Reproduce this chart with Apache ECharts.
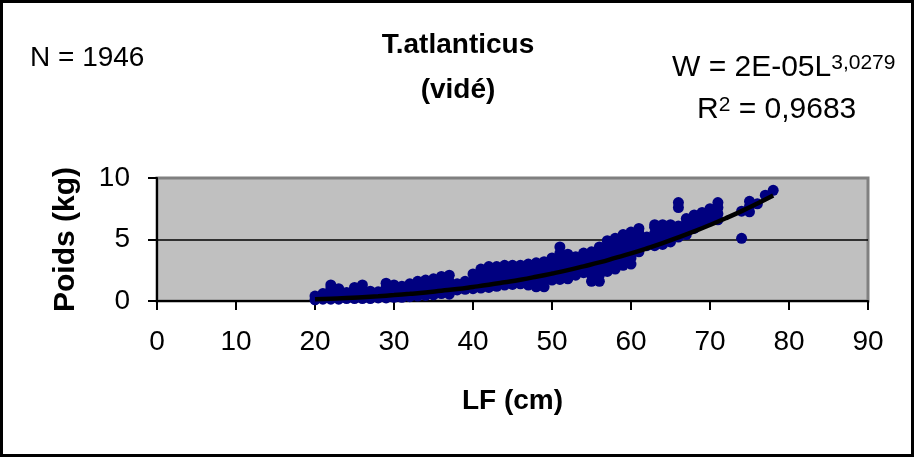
<!DOCTYPE html>
<html><head><meta charset="utf-8">
<script src="https://cdn.jsdelivr.net/npm/echarts@6/dist/echarts.min.js"></script>
<style>html,body{margin:0;padding:0;background:#fff}#c{width:916px;height:459px}</style>
</head><body><div id="c"></div>
<script>
const lengthsCm = [20,21,22,23,24,25,26,27,28,29,30,31,32,33,34,35,36,37,38,39,40,41,42,43,44,45,46,47,48,49,50,51,52,53,54,55,56,57,58,59,60,61,62,63,64,65,66,67,68,69,70,71,74,75,76,77,78];
const weightsByLength = [
  [0.1,0.4],[0.15,0.6],[0.15,0.6,1.0,1.3],[0.15,0.55,1.0],[0.2,0.7],
  [0.2,0.65,1.1],[0.2,0.7,1.3],[0.2,0.8],[0.25,0.75],[0.25,0.7,1.1,1.45],
  [0.3,0.8,1.3],[0.3,0.75,1.2],[0.35,0.85,1.4],[0.4,0.9,1.35,1.6],[0.45,0.95,1.4,1.7],
  [0.5,1.0,1.45,1.8],[0.6,1.1,1.6,2.0],[0.55,1.1,1.6,2.1],[0.9,1.4],[0.95,1.6],
  [1.0,1.6,2.2],[1.05,1.6,2.1,2.6],[1.1,1.65,2.2,2.8],[1.2,1.7,2.3,2.8],[1.3,1.85,2.4,2.9],
  [1.35,1.9,2.4,2.9],[1.4,2.0,2.5,2.9],[1.3,1.9,2.5,3.0],[1.15,1.7,2.2,2.7,3.1],[1.15,1.7,2.3,2.8,3.2],
  [1.7,2.2,2.7,3.1,3.5],[1.75,2.3,2.85,3.4,3.9,4.4],[1.8,2.35,2.9,3.4,3.8],[2.1,2.6,3.1,3.6],[2.3,2.8,3.3,3.9],
  [1.6,2.1,2.6,3.1,3.6,4.0],[1.6,2.1,2.6,3.1,3.6,4.0,4.4],[2.4,2.9,3.4,3.9,4.4,4.9],[2.6,3.1,3.6,4.1,4.6,5.1],[2.9,3.4,3.9,4.4,4.9,5.4],
  [3.0,3.5,4.0,4.5,5.0,5.6],[4.0,4.5,5.0,5.5,5.9],[4.5,5.0,5.2],[4.5,5.0,5.5,6.0,6.2],[4.6,5.1,5.6,6.2],
  [4.8,5.3,5.8,6.2],[5.2,5.7,6.1,7.6,8.0],[5.4,5.9,6.3,6.7],[5.9,6.4,7.0],[6.3,6.8,7.2],
  [6.6,7.0,7.5],[6.6,7.1,7.6,8.0],[5.1,7.3],[7.25,7.7,8.1],[7.9],[8.6],[9.0]
];
// Power trend line
const trendLengthCm = [20,22,24,26,28,30,32,34,36,38,40,42,44,46,48,50,52,54,56,58,60,62,64,66,68,70,72,74,76,78];
const trendWeightKg = [0.14,0.19,0.24,0.31,0.39,0.48,0.58,0.69,0.83,0.97,1.14,1.32,1.52,1.73,1.97,2.23,2.51,2.82,3.14,3.50,3.87,4.28,4.71,5.17,5.66,6.18,6.73,7.31,7.93,8.58];
const xTicks = [0,10,20,30,40,50,60,70,80,90];
const yTicks = [0,5,10];

const scatterData = [];
lengthsCm.forEach((L, i) => weightsByLength[i].forEach(w => scatterData.push([L, w])));
const trendData = trendLengthCm.map((L, i) => [L, trendWeightKg[i]]);

const FONT = '"Liberation Sans", Arial, sans-serif';
const chart = echarts.init(document.getElementById('c'), null, {renderer: 'canvas'});
chart.setOption({
  animation: false,
  backgroundColor: '#ffffff',
  textStyle: {fontFamily: FONT, color: '#000'},
  grid: {left: 157, right: 48, top: 178, bottom: 158, show: true,
         backgroundColor: '#C0C0C0', borderColor: '#808080', borderWidth: 3},
  xAxis: {
    type: 'value', min: xTicks[0], max: xTicks[xTicks.length - 1], interval: 10,
    axisLine: {show: true, lineStyle: {color: '#000', width: 2}},
    axisTick: {show: true, length: 9, lineStyle: {color: '#000', width: 2}},
    axisLabel: {fontSize: 28, color: '#000', margin: 27, fontFamily: FONT},
    splitLine: {show: false},
    name: 'LF (cm)', nameLocation: 'middle', nameGap: 86,
    nameTextStyle: {fontSize: 28, fontWeight: 'bold', color: '#000', fontFamily: FONT}
  },
  yAxis: {
    type: 'value', min: yTicks[0], max: yTicks[yTicks.length - 1], interval: 5,
    axisLine: {show: true, lineStyle: {color: '#000', width: 2}},
    axisTick: {show: true, length: 9, lineStyle: {color: '#000', width: 2}},
    axisLabel: {fontSize: 28, color: '#000', margin: 27, fontFamily: FONT},
    splitLine: {show: true, showMinLine: false, showMaxLine: false, lineStyle: {color: '#000', width: 1.5}},
    name: 'Poids (kg)', nameLocation: 'middle', nameGap: 76, nameRotate: 90,
    nameTextStyle: {fontSize: 30, fontWeight: 'bold', color: '#000', fontFamily: FONT}
  },
  series: [
    {type: 'scatter', data: scatterData, symbol: 'circle', symbolSize: 11,
     itemStyle: {color: '#000080', opacity: 1}, z: 2, clip: false},
    {type: 'line', data: trendData, showSymbol: false, smooth: true,
     lineStyle: {color: '#000', width: 4.5}, z: 3}
  ],
  graphic: [
    {type: 'rect', shape: {x: 1.5, y: 1.5, width: 911, height: 454},
     style: {fill: 'none', stroke: '#000', lineWidth: 3}, z: 100},
    {type: 'text', x: 30, y: 58, style: {text: 'N = 1946', font: '28px ' + FONT, fill: '#000', verticalAlign: 'middle'}},
    {type: 'text', x: 458, y: 45, style: {text: 'T.atlanticus', font: 'bold 28px ' + FONT, fill: '#000', align: 'center', verticalAlign: 'middle'}},
    {type: 'text', x: 458, y: 90, style: {text: '(vidé)', font: 'bold 28px ' + FONT, fill: '#000', align: 'center', verticalAlign: 'middle'}},
    {type: 'text', x: 672, y: 68, style: {
      text: '{m|W = 2E-05L}{s|3,0279}', fill: '#000', verticalAlign: 'middle',
      rich: {m: {fontSize: 30, fontFamily: FONT}, s: {fontSize: 21, fontFamily: FONT, verticalAlign: 'top'}}}},
    {type: 'text', x: 697, y: 110, style: {
      text: '{m|R}{s|2}{m| = 0,9683}', fill: '#000', verticalAlign: 'middle',
      rich: {m: {fontSize: 30, fontFamily: FONT}, s: {fontSize: 21, fontFamily: FONT, verticalAlign: 'top'}}}}
  ]
});
</script></body></html>
